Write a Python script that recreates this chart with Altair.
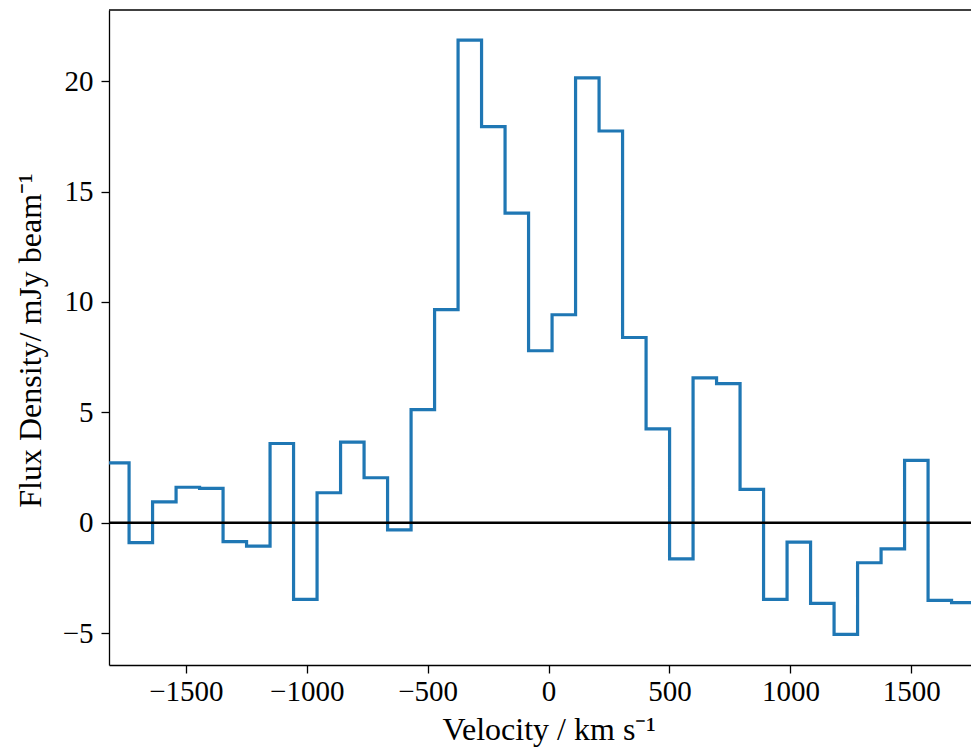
import altair as alt
import pandas as pd

# Channel velocities (km/s) and flux densities (mJy/beam)
velocity = [-1880.8, -1783.6, -1686.4, -1589.2, -1492.0, -1394.8, -1297.7, -1200.5,
            -1103.3, -1006.1, -908.9, -811.7, -714.5, -617.3, -520.1, -422.9,
            -325.8, -228.6, -131.4, -34.2, 63.0, 160.2, 257.4, 354.6,
            451.8, 549.0, 646.1, 743.3, 840.5, 937.7, 1034.9, 1132.1,
            1229.3, 1326.5, 1423.7, 1520.9, 1618.0, 1715.2, 1812.4]
flux = [2.70, 2.71, -0.90, 0.95, 1.61, 1.56, -0.85, -1.06,
        3.59, -3.47, 1.36, 3.65, 2.04, -0.32, 5.12, 9.65,
        21.86, 17.94, 14.02, 7.79, 9.42, 20.15, 17.74, 8.39,
        4.25, -1.63, 6.56, 6.30, 1.51, -3.47, -0.88, -3.65,
        -5.05, -1.81, -1.18, 2.83, -3.51, -3.62, 1.05]

x_ticks = [-1500, -1000, -500, 0, 500, 1000, 1500]
y_ticks = [-5, 0, 5, 10, 15, 20]

df = pd.DataFrame({"v": velocity, "f": flux})

FONT = "Liberation Serif"
W, H = 862, 655

xscale = alt.Scale(domain=[-1818, 1747], nice=False, zero=False)
yscale = alt.Scale(domain=[-6.44, 23.22], nice=False, zero=False)

line = alt.Chart(df).mark_line(
    interpolate="step", color="#1f77b4", strokeWidth=3.2, clip=True,
    strokeJoin="miter", strokeCap="butt"
).encode(
    x=alt.X("v:Q", scale=xscale,
            axis=alt.Axis(values=x_ticks, format="d", title="Velocity / km s\u207b\u00b9",
                          grid=False, domainColor="black", domainWidth=1.3,
                          tickColor="black", tickWidth=1.3, tickSize=8,
                          labelFont=FONT, labelFontSize=29, labelColor="black",
                          labelPadding=4, labelFlush=False,
                          titleFont=FONT, titleFontSize=32, titleFontWeight="normal",
                          titleColor="black", titleX=439.7, titleY=74,
                          titleBaseline="alphabetic", titleAlign="center")),
    y=alt.Y("f:Q", scale=yscale,
            axis=alt.Axis(values=y_ticks, format="d", title="Flux Density/ mJy beam\u207b\u00b9",
                          grid=False, domainColor="black", domainWidth=1.3,
                          tickColor="black", tickWidth=1.3, tickSize=8,
                          labelFont=FONT, labelFontSize=29, labelColor="black",
                          labelPadding=8, labelFlush=False,
                          titleFont=FONT, titleFontSize=32, titleFontWeight="normal",
                          titleColor="black", titleX=-79, titleY=330,
                          titleAngle=270, titleBaseline="middle", titleAlign="center")),
)

zero = alt.Chart(pd.DataFrame({"z": [0]})).mark_rule(
    color="black", strokeWidth=2.6
).encode(y=alt.Y("z:Q", scale=yscale))

top_spine = alt.Chart(pd.DataFrame({"z": [0]})).mark_rule(
    color="black", strokeWidth=1.3
).encode(x=alt.value(0), x2=alt.value(W + 10), y=alt.value(0))

chart = alt.layer(line, zero, top_spine).properties(
    width=W, height=H,
    autosize=alt.AutoSizeParams(type="none"),
    padding={"left": 101, "top": 2, "right": 0, "bottom": 86},
).configure_view(stroke=None)

chart.save("out.html", embed_options={"renderer": "svg", "actions": False})
